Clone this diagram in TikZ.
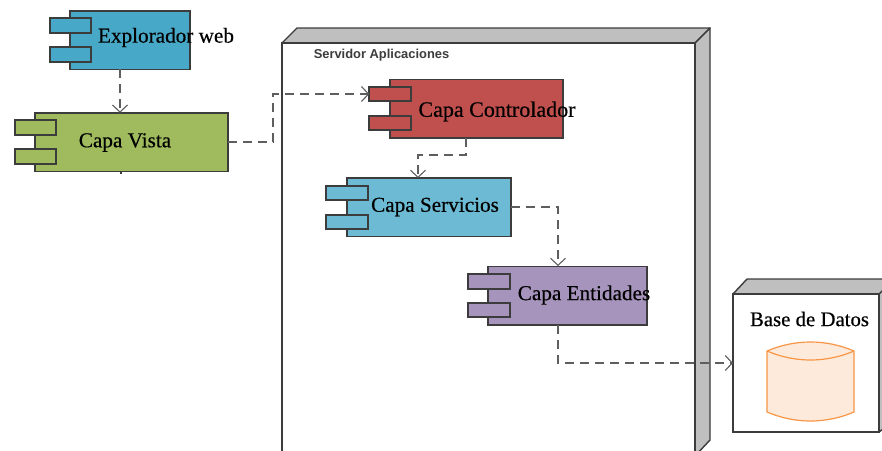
\documentclass[tikz,border=0pt]{standalone}
\usepackage{fontspec}
\setmainfont[FakeBold=0.4]{Liberation Serif}
\setsansfont{Liberation Sans}
\usetikzlibrary{arrows.meta}
\definecolor{edge}{HTML}{3C3C3C}
\definecolor{conn}{HTML}{5E5E5E}
\definecolor{sidegray}{HTML}{BFBFBF}
\definecolor{cblue}{HTML}{47A9C7}
\definecolor{cgreen}{HTML}{9FBB5E}
\definecolor{cred}{HTML}{C0504D}
\definecolor{ccyan}{HTML}{6CBAD3}
\definecolor{cpurple}{HTML}{A794BD}
\definecolor{dborange}{HTML}{F79646}
\definecolor{dbfill}{HTML}{FDEADA}
\tikzset{
  compbox/.style={draw=edge,line width=1.5pt,rectangle,inner sep=0pt,outer sep=0pt,minimum height=58.5pt},
  portbox/.style={draw=edge,line width=1.6pt,rectangle,inner sep=0pt,outer sep=0pt,minimum width=41.5pt,minimum height=14.5pt},
  lbl/.style={inner sep=0pt,outer sep=0pt,font=\fontsize{21.2}{23}\selectfont,text=black},
  dep/.style={draw=conn,line width=1.4pt,dash pattern=on 9pt off 6pt,-{Straight Barb[length=7pt,width=15pt,line width=1.1pt]}},
  solidside/.style={draw=edge,line width=1.4pt,fill=sidegray,line join=round},
  frontface/.style={draw=edge,line width=1.4pt,fill=white}
}
\begin{document}
\begin{tikzpicture}[x=1pt,y=-1pt]
\clip (0,0) rectangle (882,450);
\fill[white] (0,0) rectangle (882,450);
% server
\draw[solidside] (282,43) -- (297,28) -- (710,28) -- (695,43) -- cycle;
\draw[solidside] (695,43) -- (710,28) -- (710,440) -- (695,456) -- cycle;
\node[frontface,rectangle,inner sep=0pt,outer sep=0pt,minimum width=413pt,minimum height=430pt] (server) at (488.5,258) {};
\node[inner sep=0pt,font=\sffamily\bfseries\fontsize{12.9}{14}\selectfont,text=edge] (serverlbl) at (381.5,55.5) {Servidor Aplicaciones};
% database
\draw[solidside] (733,294) -- (747,279) -- (895,279) -- (881,294) -- cycle;
\draw[solidside] (879,294) -- (895,279) -- (895,420) -- (879,432) -- cycle;
\node[frontface,rectangle,inner sep=0pt,outer sep=0pt,minimum width=146pt,minimum height=138pt] (db) at (806,363) {};
\node[lbl,font=\fontsize{20.8}{23}\selectfont] (dblbl) at (809.5,319) {Base de Datos};
\draw[draw=dborange,fill=dbfill,line width=1.2pt,line join=round]
  (767,351) .. controls (795,339) and (826,339) .. (854,351) -- (854,412)
  .. controls (826,424) and (795,424) .. (767,412) -- cycle;
\draw[draw=dborange,line width=1.2pt] (767,351) .. controls (795,363) and (826,363) .. (854,351);
% explorer
\node[compbox,fill=cblue,minimum width=120pt] (exp) at (130,40) {};
\node[portbox,fill=cblue] (expa) at (70.5,25.5) {};
\node[portbox,fill=cblue] (expb) at (70.5,54.5) {};
\node[lbl] (explbl) at (166,37.5) {Explorador web};
% vista
\node[compbox,fill=cgreen,minimum width=193pt] (vista) at (131.5,142) {};
\node[portbox,fill=cgreen] (vistaa) at (35.5,127.5) {};
\node[portbox,fill=cgreen] (vistab) at (35.5,156.5) {};
\node[lbl] (vistalbl) at (125,142.5) {Capa Vista};
% controlador
\node[compbox,fill=cred,minimum width=173pt] (ctrl) at (476.5,108.5) {};
\node[portbox,fill=cred] (ctrla) at (390,94) {};
\node[portbox,fill=cred] (ctrlb) at (390,123) {};
\node[lbl,font=\fontsize{22}{24}\selectfont] (ctrllbl) at (497,111.5) {Capa Controlador};
% servicios
\node[compbox,fill=ccyan,minimum width=164pt] (serv) at (429,207) {};
\node[portbox,fill=ccyan] (serva) at (347,193) {};
\node[portbox,fill=ccyan] (servb) at (347,222) {};
\node[lbl] (servlbl) at (435,207) {Capa Servicios};
% entidades
\node[compbox,fill=cpurple,minimum width=159pt] (ent) at (567.5,295.5) {};
\node[portbox,fill=cpurple] (enta) at (489,281.5) {};
\node[portbox,fill=cpurple] (entb) at (489,310) {};
\node[lbl] (entlbl) at (584,295) {Capa Entidades};
% connectors
\coordinate (a1) at (exp.south -| 120,0);
\coordinate (a2) at (vista.north -| 120,0);
\draw[dep] (a1) -- (a2);
\draw[draw=edge,line width=1.4pt] (121,171) -- (121,173.5);
\coordinate (b1) at (273,142);
\coordinate (b2) at (273,94);
\draw[dep] (vista.east) -- (b1) -- (b2) -- (ctrla.west);
\coordinate (c0) at (466,138);
\coordinate (c1) at (466,155);
\coordinate (c2) at (418,155);
\coordinate (c3) at (418,178);
\draw[dep] (c0) -- (c1) -- (c2) -- (c3);
\coordinate (d1) at (558,207);
\coordinate (d2) at (558,266);
\draw[dep] (serv.east) -- (d1) -- (d2);
\coordinate (e0) at (558,325);
\coordinate (e1) at (558,363);
\draw[dep] (e0) -- (e1) -- (db.west);
\end{tikzpicture}
\end{document}
